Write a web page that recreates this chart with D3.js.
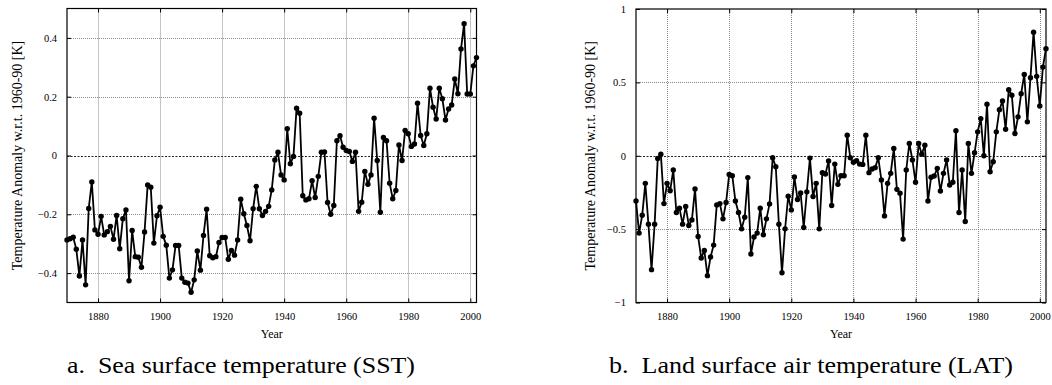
<!DOCTYPE html>
<html>
<head>
<meta charset="utf-8">
<script src="https://cdn.jsdelivr.net/npm/d3@7"></script>
<style>
  html, body { margin: 0; padding: 0; background: #fff; }
  svg { display: block; }
</style>
</head>
<body>
<svg id="chart" width="1052" height="385"></svg>
<script>
// Annual anomalies w.r.t. 1960-90 mean [K], 1870–2002
const firstYear = 1870;

const sstValues = [
  -0.287, -0.283, -0.278, -0.319, -0.410, -0.287, -0.440, -0.180, -0.090, -0.253,
  -0.268, -0.207, -0.270, -0.259, -0.241, -0.285, -0.204, -0.317, -0.215, -0.185,
  -0.426, -0.255, -0.344, -0.346, -0.380, -0.260, -0.100, -0.108, -0.298, -0.205,
  -0.176, -0.275, -0.305, -0.417, -0.389, -0.306, -0.306, -0.417, -0.431, -0.434,
  -0.465, -0.423, -0.325, -0.390, -0.272, -0.183, -0.341, -0.348, -0.344, -0.296,
  -0.279, -0.279, -0.353, -0.323, -0.339, -0.287, -0.149, -0.198, -0.238, -0.290,
  -0.181, -0.105, -0.181, -0.204, -0.190, -0.173, -0.117, -0.015, 0.011, -0.066,
  -0.083, 0.091, -0.028, -0.003, 0.161, 0.144, -0.137, -0.151, -0.147, -0.086,
  -0.143, -0.071, 0.011, 0.012, -0.160, -0.200, -0.170, 0.050, 0.067, 0.028,
  0.017, 0.014, -0.020, 0.011, -0.190, -0.159, -0.054, -0.098, -0.066, 0.127,
  -0.017, -0.193, 0.061, 0.050, -0.094, -0.147, -0.119, 0.036, -0.017, 0.085,
  0.074, 0.031, 0.039, 0.178, 0.068, 0.034, 0.074, 0.229, 0.164, 0.124,
  0.229, 0.193, 0.121, 0.158, 0.172, 0.260, 0.210, 0.362, 0.448, 0.209,
  0.209, 0.305, 0.333
];

const latValues = [
  -0.308, -0.527, -0.405, -0.188, -0.466, -0.776, -0.466, -0.018, 0.011, -0.326,
  -0.188, -0.238, -0.097, -0.387, -0.357, -0.466, -0.346, -0.475, -0.437, -0.226,
  -0.550, -0.697, -0.645, -0.817, -0.690, -0.609, -0.335, -0.326, -0.430, -0.319,
  -0.127, -0.136, -0.308, -0.387, -0.498, -0.419, -0.149, -0.670, -0.554, -0.527,
  -0.357, -0.538, -0.430, -0.328, -0.014, -0.075, -0.466, -0.797, -0.498, -0.276,
  -0.369, -0.145, -0.298, -0.253, -0.489, -0.246, -0.016, -0.278, -0.188, -0.498,
  -0.115, -0.124, -0.036, -0.339, -0.057, -0.195, -0.136, -0.136, 0.140, -0.014,
  -0.045, -0.034, -0.057, -0.059, 0.140, -0.115, -0.090, -0.081, -0.014, -0.165,
  -0.410, -0.188, -0.120, 0.050, -0.229, -0.256, -0.568, -0.097, 0.084, -0.029,
  -0.181, 0.084, 0.011, 0.072, -0.308, -0.147, -0.138, -0.086, -0.240, -0.120,
  -0.029, -0.199, -0.181, 0.170, -0.387, -0.097, -0.448, 0.084, -0.120, 0.020,
  0.163, 0.253, 0.000, 0.351, -0.109, -0.041, 0.163, 0.314, 0.373, 0.181,
  0.450, 0.412, 0.152, 0.265, 0.423, 0.554, 0.231, 0.532, 0.842, 0.541,
  0.339, 0.604, 0.729
];

const yearTicks = [1880, 1900, 1920, 1940, 1960, 1980, 2000];
const sstTicks = [-0.4, -0.2, 0, 0.2, 0.4];
const latTicks = [-1, -0.5, 0, 0.5, 1];
const yearDomain = [1870, 2002];
const sstDomain = [-0.5, 0.5];
const latDomain = [-1, 1];

const yLabel = "Temperature Anomaly w.r.t. 1960-90 [K]";
const xLabel = "Year";
const sstCaption = "a.\u00a0\u00a0Sea surface temperature (SST)";
const latCaption = "b.\u00a0\u00a0Land surface air temperature (LAT)";

const SERIF = "'Liberation Serif', 'Times New Roman', Times, serif";

const svg = d3.select("#chart");

function drawPanel(cfg) {
  const { values, yDomain, yTicks, left, right, top, bottom, yFmt,
          labelX, caption, captionCenter, captionLen } = cfg;
  const data = values.map((v, i) => ({ year: firstYear + i, value: v }));

  const x = d3.scaleLinear().domain(yearDomain).range([left, right]);
  const y = d3.scaleLinear().domain(yDomain).range([bottom, top]);

  const g = svg.append("g");

  // grid
  g.append("g").selectAll("line").data(yearTicks).join("line")
    .attr("x1", d => Math.round(x(d)) + 0.5).attr("x2", d => Math.round(x(d)) + 0.5)
    .attr("y1", top).attr("y2", bottom)
    .attr("stroke", "#8a8a8a").attr("stroke-width", 1)
    .attr("stroke-dasharray", "1,1");
  g.append("g").selectAll("line").data(yTicks.filter(d => d !== 0 && d > yDomain[0] && d < yDomain[1])).join("line")
    .attr("x1", left).attr("x2", right)
    .attr("y1", d => Math.round(y(d)) + 0.5).attr("y2", d => Math.round(y(d)) + 0.5)
    .attr("stroke", "#8a8a8a").attr("stroke-width", 1)
    .attr("stroke-dasharray", "1,1");
  // zero line
  g.append("line")
    .attr("x1", left).attr("x2", right)
    .attr("y1", Math.round(y(0)) + 0.5).attr("y2", Math.round(y(0)) + 0.5)
    .attr("stroke", "#222").attr("stroke-width", 1)
    .attr("stroke-dasharray", "2,1.5");

  // axes with inward ticks, mirrored on the opposite sides
  const tickLen = 4;
  const axB = d3.axisBottom(x).tickValues(yearTicks).tickSize(-tickLen).tickPadding(10).tickFormat(d3.format("d"));
  const axT = d3.axisTop(x).tickValues(yearTicks).tickSize(-tickLen).tickFormat("");
  const axL = d3.axisLeft(y).tickValues(yTicks).tickSize(-tickLen).tickPadding(10).tickFormat(yFmt);
  const axR = d3.axisRight(y).tickValues(yTicks).tickSize(-tickLen).tickFormat("");

  const styleAxis = sel => {
    sel.attr("font-family", SERIF).attr("font-size", 10.5);
    sel.select(".domain").remove();
    sel.selectAll(".tick line").attr("stroke", "#000");
    sel.selectAll(".tick text").attr("fill", "#000");
  };
  g.append("g").attr("transform", `translate(0,${bottom})`).call(axB).call(styleAxis);
  g.append("g").attr("transform", `translate(0,${top})`).call(axT).call(styleAxis);
  g.append("g").attr("transform", `translate(${left},0)`).call(axL).call(styleAxis);
  g.append("g").attr("transform", `translate(${right},0)`).call(axR).call(styleAxis);

  // frame
  g.append("rect")
    .attr("x", left).attr("y", top)
    .attr("width", right - left).attr("height", bottom - top)
    .attr("fill", "none").attr("stroke", "#000").attr("stroke-width", 1.2);

  // series line and markers
  const line = d3.line().x(d => x(d.year)).y(d => y(d.value));
  g.append("path").datum(data)
    .attr("d", line)
    .attr("fill", "none").attr("stroke", "#000")
    .attr("stroke-width", 1.8).attr("stroke-linejoin", "round");
  g.append("g").selectAll("circle").data(data).join("circle")
    .attr("cx", d => x(d.year)).attr("cy", d => y(d.value))
    .attr("r", 2.7).attr("fill", "#000");

  // labels
  g.append("text")
    .attr("transform", `translate(${labelX},${(top + bottom) / 2}) rotate(-90)`)
    .attr("text-anchor", "middle").attr("dominant-baseline", "central")
    .attr("font-family", SERIF).attr("font-size", 14)
    .text(yLabel);
  g.append("text")
    .attr("x", (left + right) / 2).attr("y", 337.5)
    .attr("text-anchor", "middle")
    .attr("font-family", SERIF).attr("font-size", 12)
    .text(xLabel);
  g.append("text")
    .attr("x", captionCenter - captionLen / 2).attr("y", 373)
    .attr("textLength", captionLen).attr("lengthAdjust", "spacingAndGlyphs")
    .attr("font-family", SERIF).attr("font-size", 24)
    .text(caption);
}

drawPanel({
  values: sstValues, yDomain: sstDomain, yTicks: sstTicks,
  left: 67, right: 476.5, top: 8.5, bottom: 302.5,
  yFmt: d => d === 0 ? "0" : d3.format(".1f")(d),
  labelX: 17, caption: sstCaption, captionCenter: 241, captionLen: 348
});

drawPanel({
  values: latValues, yDomain: latDomain, yTicks: latTicks,
  left: 636, right: 1046, top: 9, bottom: 302.5,
  yFmt: d => (d === 0 || Math.abs(d) === 1) ? d3.format("d")(d) : d3.format(".1f")(d),
  labelX: 590, caption: latCaption, captionCenter: 811, captionLen: 404
});
</script>
</body>
</html>
